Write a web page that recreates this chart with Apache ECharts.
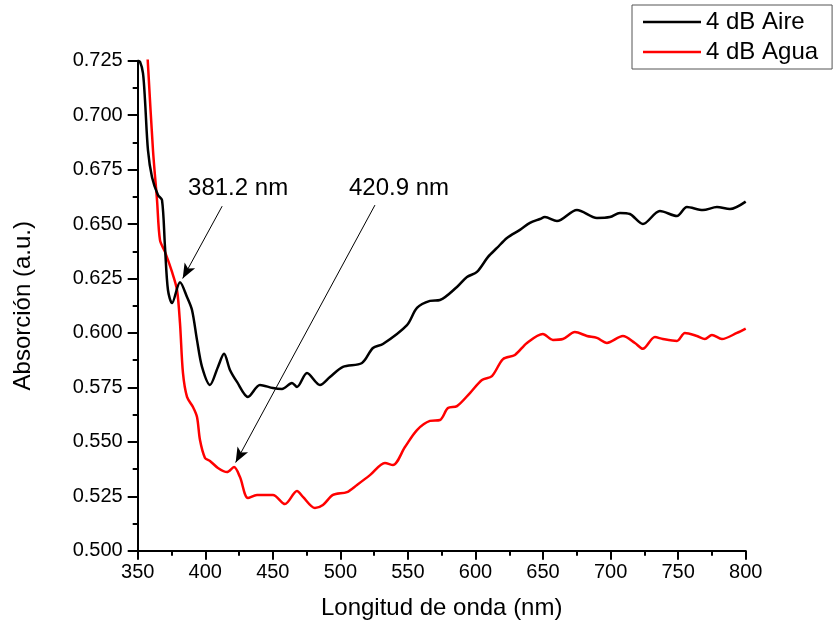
<!DOCTYPE html>
<html>
<head>
<meta charset="utf-8">
<style>
  html, body { margin: 0; padding: 0; background: #fff; }
  #chart { width: 833px; height: 631px; }
</style>
<script src="https://cdn.jsdelivr.net/npm/echarts@6/dist/echarts.min.js"></script>
</head>
<body>
<div id="chart"></div>
<script>
// Wavelength (nm) and absorption (a.u.) for the 4 dB sample in air
const aireNm = [350, 351.7, 353.9, 355.4, 357.6, 360.6, 365.0, 368.0, 370.2, 372.4, 375.4, 381.3, 386.5, 390.2, 393.9, 397.6,
  403.5, 409.4, 413.9, 418.3, 423.5, 431.6, 440.5, 450.1, 456.8, 464.2, 467.9, 475.3, 484.9, 492.3, 501.9, 516.0,
  524.1, 531.5, 549.3, 556.7, 566.3, 573.7, 586.3, 593.7, 601.1, 609.3, 615.9, 623.3, 632.9, 640.3, 647.7, 651.4,
  660.3, 675.1, 689.9, 699.5, 706.9, 714.3, 723.9, 736.5, 749.1, 756.5, 768.3, 778.7, 788.3, 800];
const aireAbs = [0.725, 0.7245, 0.7193, 0.7069, 0.6839, 0.6715, 0.6633, 0.6610, 0.6394, 0.6197, 0.6137, 0.6233, 0.6165, 0.6105, 0.5967, 0.5844,
  0.5761, 0.5844, 0.5904, 0.5830, 0.5775, 0.5706, 0.5761, 0.5747, 0.5743, 0.5770, 0.5752, 0.5816, 0.5761, 0.5798, 0.5844, 0.5862,
  0.5931, 0.5949, 0.6036, 0.6115, 0.6147, 0.6151, 0.6211, 0.6257, 0.6280, 0.6349, 0.6390, 0.6436, 0.6473, 0.6505, 0.6523, 0.6532,
  0.6514, 0.6565, 0.6528, 0.6532, 0.6551, 0.6546, 0.6500, 0.6560, 0.6537, 0.6578, 0.6564, 0.6578, 0.6569, 0.6603];

// Wavelength (nm) and absorption (a.u.) for the 4 dB sample in water
const aguaNm = [357.3, 361.3, 364.3, 366.5, 370.2, 375.4, 379.1, 381.3, 383.5, 386.5, 390.9, 393.9, 396.1, 399.8, 403.5, 409.4,
  416.1, 421.3, 425.7, 431.6, 438.3, 442.7, 450.1, 459.0, 467.9, 472.3, 481.2, 487.1, 494.5, 504.9, 512.3, 521.9,
  533.0, 538.9, 547.8, 556.7, 566.3, 573.7, 579.6, 586.3, 595.9, 604.8, 612.2, 620.4, 629.2, 638.1, 649.9, 657.3,
  664.7, 673.6, 682.5, 689.9, 697.3, 709.1, 718.0, 723.9, 732.8, 738.7, 749.1, 755.0, 763.9, 769.8, 775.0, 782.4,
  793.5, 800];
const aguaAbs = [0.7265, 0.6840, 0.6610, 0.6426, 0.6372, 0.6280, 0.6197, 0.6045, 0.5816, 0.5706, 0.5660, 0.5614, 0.5508, 0.5426, 0.5412, 0.5380,
  0.5361, 0.5384, 0.5338, 0.5242, 0.5256, 0.5256, 0.5256, 0.5214, 0.5274, 0.5247, 0.5196, 0.5210, 0.5256, 0.5269, 0.5302, 0.5347,
  0.5403, 0.5393, 0.5476, 0.5554, 0.5596, 0.5600, 0.5655, 0.5664, 0.5724, 0.5784, 0.5802, 0.5880, 0.5899, 0.5954, 0.5995, 0.5968,
  0.5972, 0.6004, 0.5986, 0.5977, 0.5954, 0.5986, 0.5954, 0.5927, 0.5981, 0.5972, 0.5963, 0.6000, 0.5986, 0.5972, 0.5991, 0.5972,
  0.6000, 0.6020];

const seriesNames = ['4 dB Aire', '4 dB Agua'];

// Peak annotations: label text, label anchor, arrow tail and arrow tip (data coordinates)
const peakLabels = ['381.2 nm', '420.9 nm'];
const peakLabelAt = [[424.3, 0.6665], [543.4, 0.6665]];
const peakArrowFrom = [[412.5, 0.6582], [525.6, 0.6587]];
const peakArrowTo = [[383.3, 0.6250], [422.5, 0.5405]];

const FONT = '"Liberation Sans", Arial, sans-serif';

const zip = (xs, ys) => xs.map((x, i) => [x, ys[i]]);

const chart = echarts.init(document.getElementById('chart'), null, { renderer: 'canvas' });

const arrowLines = peakArrowFrom.map((p, i) => [{ coord: p }, { coord: peakArrowTo[i] }]);

chart.setOption({
  animation: false,
  backgroundColor: '#ffffff',
  grid: { left: 137.7, right: 87.3, top: 60.7, bottom: 80.3 },
  legend: {
    orient: 'vertical',
    left: 632,
    top: 5,
    padding: [5, 14, 5, 11],
    icon: 'rect',
    itemWidth: 58,
    itemHeight: 2.5,
    itemGap: 6,
    borderColor: '#555',
    borderWidth: 1,
    borderRadius: 0,
    textStyle: { fontFamily: FONT, fontSize: 24, color: '#000', lineHeight: 24 },
    data: seriesNames
  },
  xAxis: {
    type: 'value',
    min: 350,
    max: 800,
    interval: 50,
    name: 'Longitud de onda (nm)',
    nameLocation: 'middle',
    nameGap: 46,
    nameTextStyle: { fontFamily: FONT, fontSize: 24, color: '#000' },
    axisLine: { show: true, onZero: false, lineStyle: { color: '#000', width: 2 } },
    axisTick: { show: true, inside: false, length: 9, lineStyle: { color: '#000', width: 2 } },
    minorTick: { show: true, splitNumber: 2, length: 5, lineStyle: { color: '#000', width: 2 } },
    axisLabel: { margin: 12, fontFamily: FONT, fontSize: 20, color: '#000' },
    splitLine: { show: false }
  },
  yAxis: {
    type: 'value',
    min: 0.5,
    max: 0.725,
    interval: 0.025,
    name: 'Absorción (a.u.)',
    nameLocation: 'middle',
    nameGap: 102,
    nameTextStyle: { fontFamily: FONT, fontSize: 24, color: '#000' },
    axisLine: { show: true, onZero: false, lineStyle: { color: '#000', width: 2 } },
    axisTick: { show: true, inside: false, length: 10, lineStyle: { color: '#000', width: 2 } },
    minorTick: { show: true, splitNumber: 2, length: 5, lineStyle: { color: '#000', width: 2 } },
    axisLabel: {
      margin: 15,
      fontFamily: FONT,
      fontSize: 20,
      color: '#000',
      formatter: v => v.toFixed(3)
    },
    splitLine: { show: false }
  },
  series: [
    {
      name: seriesNames[0],
      type: 'line',
      data: zip(aireNm, aireAbs),
      smooth: 0.3,
      symbol: 'none',
      clip: true,
      lineStyle: { color: '#000000', width: 2.5 },
      itemStyle: { color: '#000000' },
      markLine: {
        silent: true,
        symbol: ['none', 'arrow'],
        symbolSize: [9, 15],
        label: { show: false },
        lineStyle: { color: '#000', width: 1, type: 'solid' },
        emphasis: { disabled: true },
        data: arrowLines
      },
      z: 3
    },
    {
      name: seriesNames[1],
      type: 'line',
      data: zip(aguaNm, aguaAbs),
      smooth: 0.3,
      symbol: 'none',
      clip: true,
      lineStyle: { color: '#ff0000', width: 2.5 },
      itemStyle: { color: '#ff0000' },
      z: 2
    }
  ]
});

// Peak labels placed through the grid's coordinate system
chart.setOption({
  graphic: peakLabels.map((text, i) => {
    const [px, py] = chart.convertToPixel({ gridIndex: 0 }, peakLabelAt[i]);
    return {
      type: 'text',
      x: px,
      y: py,
      z: 10,
      style: {
        text: text,
        font: '24px ' + FONT,
        fill: '#000',
        align: 'center',
        verticalAlign: 'middle'
      }
    };
  })
});
</script>
</body>
</html>
